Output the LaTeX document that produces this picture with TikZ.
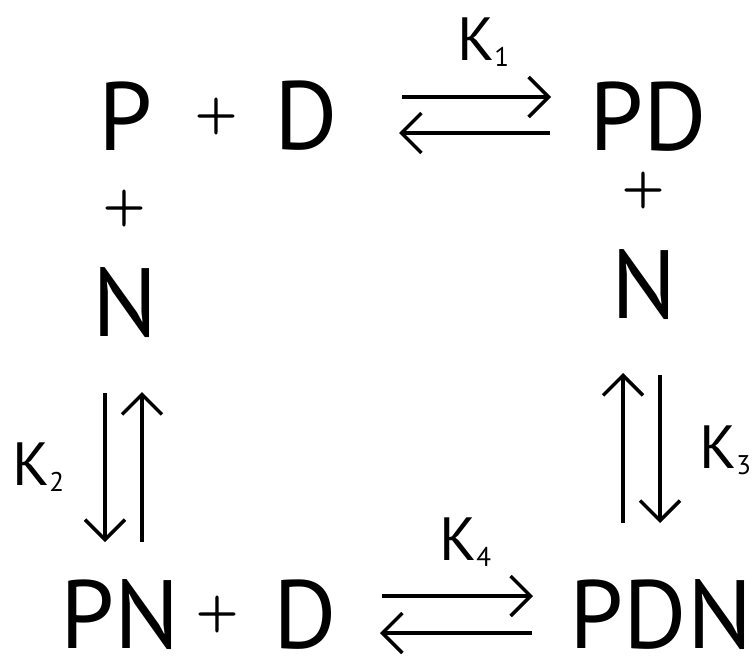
\documentclass[tikz,border=0pt]{standalone}
\usepackage{fontspec}
\setmainfont{PT Sans}
\newfontfamily\plusfont[FakeBold=2]{Latin Modern Roman}
\usetikzlibrary{arrows.meta}
\newcommand{\Kl}[1]{K\lower 6pt\hbox{\fontsize{27}{27}\selectfont #1}}
\begin{document}
\begin{tikzpicture}[x=1pt,y=-1pt,
  species/.style={inner sep=0pt,font=\fontsize{97}{97}\selectfont},
  plussign/.style={inner sep=0pt,font=\plusfont\fontsize{57}{57}\selectfont},
  klabel/.style={inner sep=0pt,anchor=base west,font=\fontsize{61}{61}\selectfont},
  rxn/.style={line width=3.5pt,-{Straight Barb[length=20pt,width=40pt]}}]
\useasboundingbox (0,0) rectangle (755,656);
% top row
\node[species] (P) at (126,116) {P};
\node[plussign] (pl1) at (216,116) {+};
\node[species] (D1) at (306,116) {D};
\node[species] (PD) at (648,116.5) {PD};
\node[klabel] (K1) at (457,60) {\Kl{1}};
% left column
\node[plussign] (pl2) at (124,208) {+};
\node[species] (N1) at (125,303) {N};
% right column
\node[plussign] (pl3) at (643,190) {+};
\node[species] (N2) at (644,285) {N};
% bottom row
\node[species] (PN) at (120,615) {PN};
\node[plussign] (pl4) at (217,614) {+};
\node[species] (D2) at (305,615) {D};
\node[species] (PDN) at (661,615) {PDN};
\node[klabel] (K2) at (12,485) {\Kl{2}};
\node[klabel] (K3) at (699,468) {\Kl{3}};
\node[klabel] (K4) at (439,560) {\Kl{4}};
% arrow end points
\coordinate (a1s) at (402,97);  \coordinate (a1e) at (551,97);
\coordinate (a2s) at (550,133); \coordinate (a2e) at (399,133);
\coordinate (b1s) at (105,393); \coordinate (b1e) at (105,542);
\coordinate (b2s) at (142,542); \coordinate (b2e) at (142,392);
\coordinate (c1s) at (623,523); \coordinate (c1e) at (623,373);
\coordinate (c2s) at (660,375); \coordinate (c2e) at (660,523);
\coordinate (d1s) at (382,596); \coordinate (d1e) at (533,596);
\coordinate (d2s) at (532,633); \coordinate (d2e) at (380,633);
\draw[rxn] (a1s) -- (a1e);
\draw[rxn] (a2s) -- (a2e);
\draw[rxn] (b1s) -- (b1e);
\draw[rxn] (b2s) -- (b2e);
\draw[rxn] (c1s) -- (c1e);
\draw[rxn] (c2s) -- (c2e);
\draw[rxn] (d1s) -- (d1e);
\draw[rxn] (d2s) -- (d2e);
\end{tikzpicture}
\end{document}
